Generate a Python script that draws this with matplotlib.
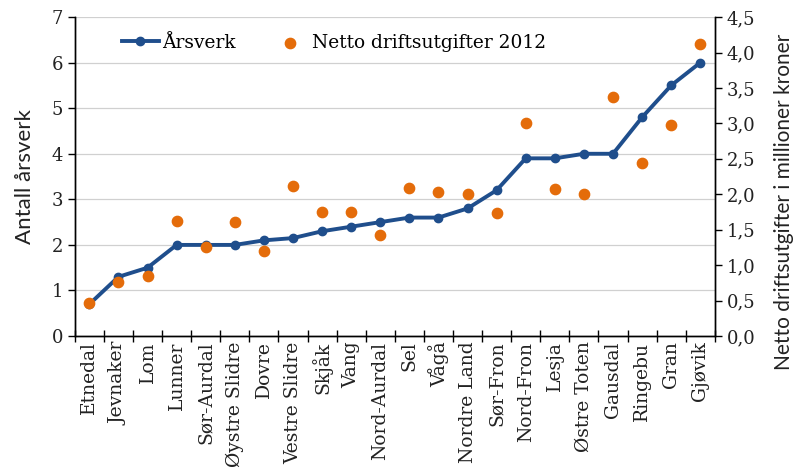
import matplotlib
matplotlib.use("Agg")
import matplotlib.pyplot as plt
import numpy as np

categories = ["Etnedal", "Jevnaker", "Lom", "Lunner", "Sør-Aurdal", "Øystre Slidre",
              "Dovre", "Vestre Slidre", "Skjåk", "Vang", "Nord-Aurdal", "Sel", "Vågå",
              "Nordre Land", "Sør-Fron", "Nord-Fron", "Lesja", "Østre Toten", "Gausdal",
              "Ringebu", "Gran", "Gjøvik"]
arsverk = [0.7, 1.3, 1.5, 2.0, 2.0, 2.0, 2.1, 2.15, 2.3, 2.4, 2.5, 2.6, 2.6, 2.8,
           3.2, 3.9, 3.9, 4.0, 4.0, 4.8, 5.5, 6.0]
netto = [0.47, 0.76, 0.85, 1.62, 1.26, 1.61, 1.20, 2.12, 1.75, 1.75, 1.42, 2.09, 2.03,
         2.00, 1.73, 3.01, 2.07, 2.01, 3.37, 2.44, 2.98, 4.12]
left_ticks = [0, 1, 2, 3, 4, 5, 6, 7]
right_ticks = [0, 0.5, 1.0, 1.5, 2.0, 2.5, 3.0, 3.5, 4.0, 4.5]

plt.rcParams['font.family'] = ['DejaVu Serif']

blue = '#1F4E8C'
orange = '#E46C0A'
tick_color = '#222222'

fig = plt.figure(figsize=(7.96, 4.74), dpi=100)
ax = fig.add_axes([0.094, 0.291, 0.804, 0.673])
ax2 = ax.twinx()

x = np.arange(len(categories))
ax.set_xlim(-0.5, len(categories) - 0.5)
ax.set_ylim(0, 7)
ax2.set_ylim(0, 4.5)

ax.set_yticks(left_ticks)
ax.set_yticklabels([str(t) for t in left_ticks])
ax2.set_yticks(right_ticks)
ax2.set_yticklabels([f"{t:.1f}".replace('.', ',') for t in right_ticks])

ax.grid(axis='y', color='#d0d0d0', linewidth=0.9)
ax.set_axisbelow(True)

l1, = ax.plot(x, arsverk, color=blue, linewidth=2.8, marker='o', markersize=6,
              label='Årsverk', zorder=3)
s2 = ax2.scatter(x, netto, color=orange, s=55, zorder=4,
                 label='Netto driftsutgifter 2012')

ax.set_xticks(np.arange(-0.5, len(categories), 1.0), minor=False)
ax.set_xticklabels([])
ax.set_xticks(x, minor=True)
ax.set_xticklabels(categories, minor=True, rotation=90, fontsize=13.5, color=tick_color)
ax.tick_params(axis='x', which='major', direction='inout', length=8, width=1)
ax.tick_params(axis='x', which='minor', length=0, pad=4)

ax.tick_params(axis='y', labelsize=13, direction='out', length=5, width=1, labelcolor=tick_color)
ax2.tick_params(axis='y', labelsize=13, direction='out', length=5, width=1, labelcolor=tick_color)

for a in (ax, ax2):
    a.spines['top'].set_visible(False)
    for s in ('left', 'right', 'bottom'):
        a.spines[s].set_color('black')
        a.spines[s].set_linewidth(1)

ax.set_ylabel('Antall årsverk', fontsize=16, family='Lato', color=tick_color)
ax.yaxis.set_label_coords(-0.0625, 0.5)
ax2.set_ylabel('Netto driftsutgifter i millioner kroner', fontsize=15, family='Lato',
               color=tick_color)
ax2.yaxis.set_label_coords(1.092, 0.42)

ax.legend(handles=[l1, s2], loc='center left', bbox_to_anchor=(0.047, 0.92),
          ncol=2, frameon=False, fontsize=13.4, handlelength=2.0, columnspacing=1.95,
          handletextpad=0.15)

fig.savefig('out.png', dpi=100)
